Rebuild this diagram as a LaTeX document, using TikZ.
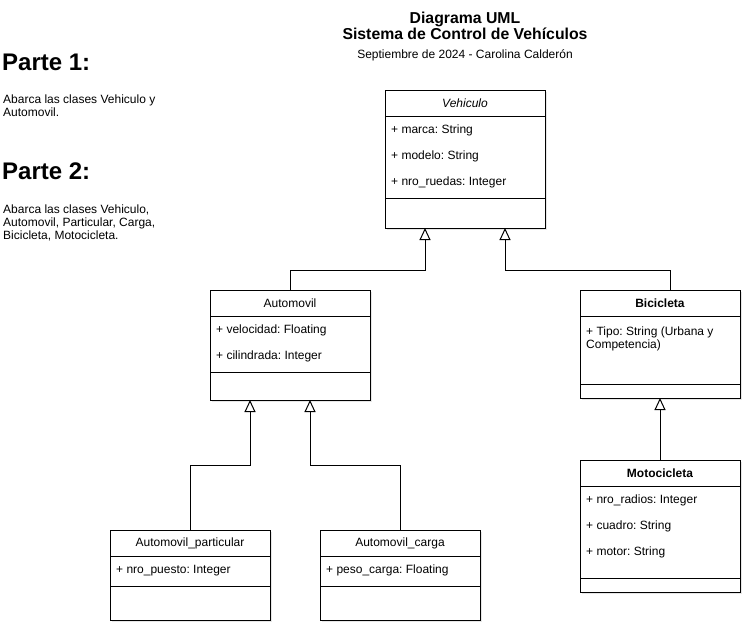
\documentclass[tikz,border=0pt]{standalone}
\usepackage{fontspec}
\setmainfont{Liberation Sans}
\usetikzlibrary{positioning,shadows,arrows.meta}
\frenchspacing

\begin{document}
\begin{tikzpicture}[
  x=1pt, y=-1pt,
  box/.style={rectangle, draw, fill=white, line width=1pt, minimum width=160pt, inner sep=0pt, outer sep=0pt,
    drop shadow={shadow xshift=2pt, shadow yshift=-2pt, opacity=0.2}},
  head/.style={box, minimum height=26pt, font=\fontsize{12}{14}\selectfont},
  attr/.style={anchor=base west, inner sep=0pt, font=\fontsize{12}{14}\selectfont},
  note/.style={anchor=north west, inner sep=0pt, align=left, font=\fontsize{12}{13}\selectfont},
  inherit/.style={-{Triangle[open, length=12pt, width=11pt]}, line width=1pt},
  node distance=0pt
]
\useasboundingbox (0,0) rectangle (752,632);

% Title
\node[anchor=base, font=\fontsize{15.8}{18}\selectfont\bfseries] (title1) at (465,23.5) {Diagrama UML};
\node[anchor=base, font=\fontsize{15.8}{18}\selectfont\bfseries] (title2) at (465,39.5) {Sistema de Control de Vehículos};
\node[anchor=base, font=\fontsize{12}{14}\selectfont] (subtitle) at (465,58.5) {Septiembre de 2024 - Carolina Calderón};

% Parts
\node[anchor=base west, inner sep=0pt, font=\fontsize{24}{28}\selectfont\bfseries] (parte1) at (2,70.5) {Parte 1:};
\node[note] (parte1-text) at (3,94.3) {Abarca las clases Vehiculo y\\Automovil.};
\node[anchor=base west, inner sep=0pt, font=\fontsize{24}{28}\selectfont\bfseries] (parte2) at (2,179) {Parte 2:};
\node[note] (parte2-text) at (3,204.3) {Abarca las clases Vehiculo,\\Automovil, Particular, Carga,\\Bicicleta, Motocicleta.};

% Vehiculo
\node[head] (veh) at (465,103) {\textit{Vehiculo}};
\node[box, minimum height=82pt, below=of veh] (veh-attr) {};
\node[box, minimum height=30pt, below=of veh-attr] (veh-meth) {};
\node[attr] (veh-a1) at (391,133) {+ marca: String};
\node[attr] (veh-a2) at (391,159) {+ modelo: String};
\node[attr] (veh-a3) at (391,185) {+ nro\_ruedas: Integer};

% Automovil
\node[head] (auto) at (290,303) {Automovil};
\node[box, minimum height=56pt, below=of auto] (auto-attr) {};
\node[box, minimum height=28pt, below=of auto-attr] (auto-meth) {};
\node[attr] (auto-a1) at (216,333) {+ velocidad: Floating};
\node[attr] (auto-a2) at (216,359) {+ cilindrada: Integer};

% Automovil_particular
\node[head] (part) at (190,543) {Automovil\_particular};
\node[box, minimum height=30pt, below=of part] (part-attr) {};
\node[box, minimum height=34pt, below=of part-attr] (part-meth) {};
\node[attr] (part-a1) at (116,573) {+ nro\_puesto: Integer};

% Automovil_carga
\node[head] (carga) at (400,543) {Automovil\_carga};
\node[box, minimum height=30pt, below=of carga] (carga-attr) {};
\node[box, minimum height=34pt, below=of carga-attr] (carga-meth) {};
\node[attr] (carga-a1) at (326,573) {+ peso\_carga: Floating};

% Bicicleta
\node[head] (bici) at (660,303) {\textbf{Bicicleta}};
\node[box, minimum height=68pt, below=of bici] (bici-attr) {};
\node[box, minimum height=14pt, below=of bici-attr] (bici-meth) {};
\node[note] (bici-a1) at (586,326.5) {+ Tipo: String (Urbana y\\Competencia)};

% Motocicleta
\node[head] (moto) at (660,473) {\textbf{Motocicleta}};
\node[box, minimum height=92pt, below=of moto] (moto-attr) {};
\node[box, minimum height=14pt, below=of moto-attr] (moto-meth) {};
\node[attr] (moto-a1) at (586,503.5) {+ nro\_radios: Integer};
\node[attr] (moto-a2) at (586,529.5) {+ cuadro: String};
\node[attr] (moto-a3) at (586,555.5) {+ motor: String};

% Inheritance
\coordinate (bend-auto) at (425,270);
\coordinate (bend-bici) at (505,270);
\coordinate (bici-in) at (670,290);
\coordinate (bend-part) at (250,465);
\coordinate (bend-carga) at (310,465);
\draw[inherit] (auto.north) |- (bend-auto) -- (bend-auto |- veh-meth.south);
\draw[inherit] (bici-in) |- (bend-bici) -- (bend-bici |- veh-meth.south);
\draw[inherit] (part.north) |- (bend-part) -- (bend-part |- auto-meth.south);
\draw[inherit] (carga.north) |- (bend-carga) -- (bend-carga |- auto-meth.south);
\draw[inherit] (moto.north) -- (bici-meth.south);
\end{tikzpicture}
\end{document}
